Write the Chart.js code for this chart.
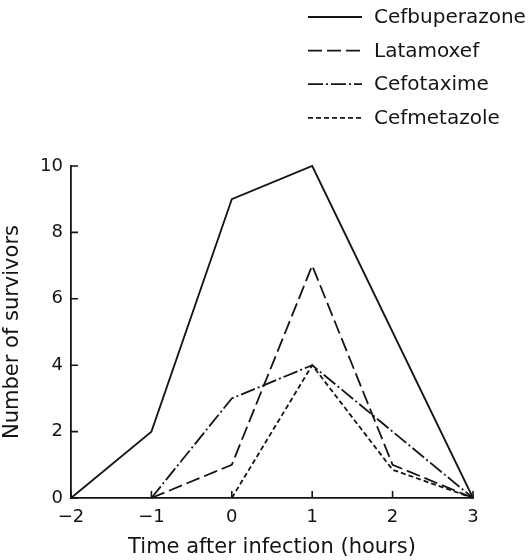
<!DOCTYPE html>
<html>
<head>
<meta charset="utf-8">
<script src="https://cdn.jsdelivr.net/npm/chart.js@4"></script>
<style>
  html, body { margin: 0; padding: 0; background: #fff; }
  #wrap { width: 531px; height: 560px; }
</style>
</head>
<body>
<div id="wrap"><canvas id="c" width="531" height="560"></canvas></div>
<script>
// Time after infection (hours)
const cefbuperazoneX = [-2, -1, 0, 1, 2, 3];
const cefbuperazoneY = [0, 2, 9, 10, 5, 0];
const latamoxefX = [-1, 0, 1, 2, 3];
const latamoxefY = [0, 1, 7, 1, 0];
const cefotaximeX = [-1, 0, 1, 2, 3];
const cefotaximeY = [0, 3, 4, 2, 0];
const cefmetazoleX = [0, 1, 2, 3];
const cefmetazoleY = [0, 4, 0.85, 0];

const xTicks = [-2, -1, 0, 1, 2, 3];
const yTicks = [0, 2, 4, 6, 8, 10];

const INK = '#141414';
const FONT = "'DejaVu Sans', sans-serif";

const pts = (xs, ys) => xs.map((x, i) => ({ x, y: ys[i] }));

function ds(label, xs, ys, dash) {
  return {
    label,
    data: pts(xs, ys),
    borderColor: INK,
    borderWidth: 1.8,
    borderDash: dash,
    pointRadius: 0,
    tension: 0,
    fill: false,
    clip: false,
  };
}

// legend stacked in the top right corner, drawn with each dataset's own stroke
const sideLegend = {
  id: 'sideLegend',
  afterDraw(chart) {
    const ctx = chart.ctx;
    ctx.save();
    chart.data.datasets.forEach((d, i) => {
      const y = 17 + i * 33.6;
      ctx.strokeStyle = d.borderColor;
      ctx.lineWidth = d.borderWidth;
      ctx.setLineDash(d.borderDash || []);
      ctx.beginPath();
      ctx.moveTo(308, y);
      ctx.lineTo(362, y);
      ctx.stroke();
      ctx.setLineDash([]);
      ctx.fillStyle = INK;
      ctx.font = "20px " + FONT;
      ctx.textBaseline = 'middle';
      ctx.fillText(d.label, 374, y + 1);
    });
    ctx.restore();
  }
};

// inward tick marks
const inTicks = {
  id: 'inTicks',
  afterDraw(chart) {
    const { ctx, chartArea, scales } = chart;
    ctx.save();
    ctx.strokeStyle = INK;
    ctx.lineWidth = 1.6;
    ctx.beginPath();
    yTicks.forEach(v => {
      const py = scales.y.getPixelForValue(v);
      ctx.moveTo(chartArea.left, py);
      ctx.lineTo(chartArea.left + 7, py);
    });
    xTicks.forEach(v => {
      const px = scales.x.getPixelForValue(v);
      ctx.moveTo(px, chartArea.bottom);
      ctx.lineTo(px, chartArea.bottom - 7);
    });
    ctx.stroke();
    ctx.restore();
  }
};

new Chart(document.getElementById('c'), {
  type: 'line',
  data: {
    datasets: [
      ds('Cefbuperazone', cefbuperazoneX, cefbuperazoneY, []),
      ds('Latamoxef', latamoxefX, latamoxefY, [14, 5]),
      ds('Cefotaxime', cefotaximeX, cefotaximeY, [15, 3, 2, 3]),
      ds('Cefmetazole', cefmetazoleX, cefmetazoleY, [5, 3]),
    ],
  },
  options: {
    responsive: false,
    animation: false,
    layout: { padding: { left: 0, top: 166, right: 58, bottom: 0 } },
    plugins: {
      legend: { display: false },
      tooltip: { enabled: false },
    },
    scales: {
      x: {
        type: 'linear',
        min: -2,
        max: 3,
        afterFit: (s) => { s.height = 62; },
        afterBuildTicks: (s) => { s.ticks = xTicks.map(v => ({ value: v })); },
        grid: { drawOnChartArea: false, drawTicks: false },
        border: { color: INK, width: 1.8 },
        ticks: {
          color: INK,
          padding: 9,
          font: { family: FONT, size: 18 },
          callback: (v) => String(v).replace('-', '\u2212'),
        },
        title: {
          display: true,
          text: 'Time after infection (hours)',
          color: INK,
          font: { family: FONT, size: 21 },
          padding: { top: 5, bottom: 0 },
        },
      },
      y: {
        min: 0,
        max: 10,
        afterFit: (s) => { s.width = 71; },
        afterBuildTicks: (s) => { s.ticks = yTicks.map(v => ({ value: v })); },
        grid: { drawOnChartArea: false, drawTicks: false },
        border: { color: INK, width: 1.8 },
        ticks: {
          color: INK,
          padding: 8,
          font: { family: FONT, size: 18 },
        },
        title: {
          display: true,
          text: 'Number of survivors',
          color: INK,
          font: { family: FONT, size: 21 },
          padding: { top: 0, bottom: 0 },
        },
      },
    },
  },
  plugins: [sideLegend, inTicks],
});
</script>
</body>
</html>
